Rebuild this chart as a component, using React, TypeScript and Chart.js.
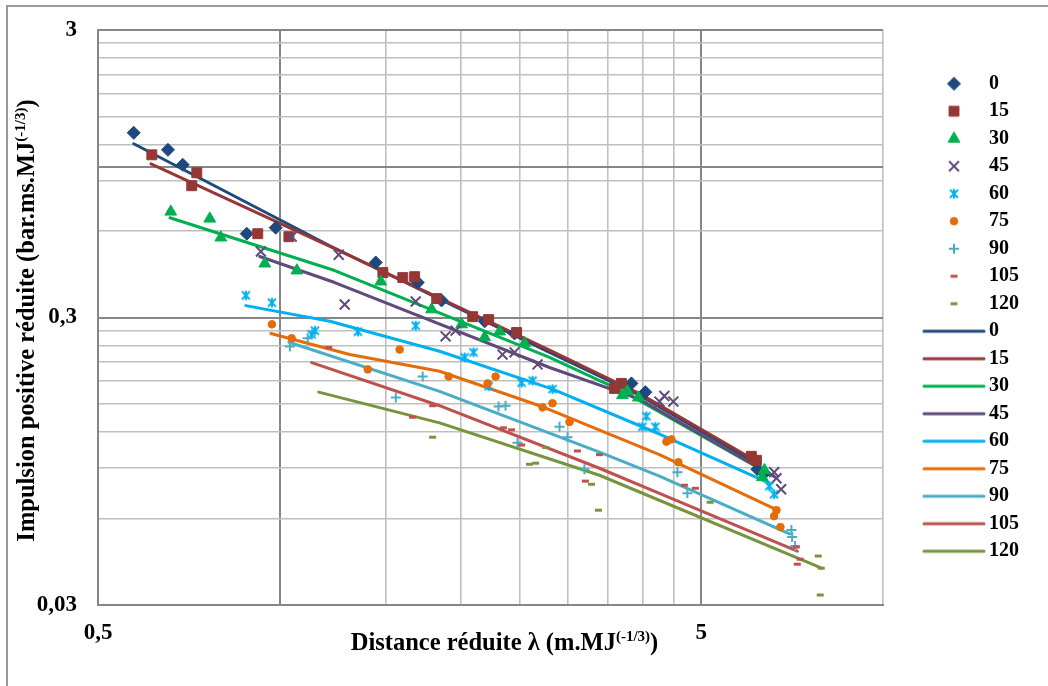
import React, { useEffect, useRef } from 'react';
import { Chart, registerables } from 'chart.js';

Chart.register(...registerables);

// ---------- data ----------
const SERIES_NAMES = ['0', '15', '30', '45', '60', '75', '90', '105', '120'];

const P0_X = [0.573, 0.653, 0.691, 0.882, 0.985, 1.443, 1.694, 1.855, 2.187, 2.451, 3.829, 4.038, 6.19, 6.36];
const P0_Y = [1.317, 1.149, 1.019, 0.587, 0.616, 0.466, 0.397, 0.344, 0.291, 0.264, 0.177, 0.165, 0.089, 0.0862];

const P15_X = [0.614, 0.715, 0.729, 0.92, 1.036, 1.483, 1.6, 1.674, 1.821, 2.089, 2.22, 2.47, 3.589, 3.686, 6.05, 6.17];
const P15_Y = [1.104, 0.862, 0.956, 0.587, 0.573, 0.43, 0.413, 0.416, 0.349, 0.302, 0.295, 0.266, 0.17, 0.177, 0.0987, 0.0956];

const P30_X = [0.66, 0.766, 0.799, 0.945, 1.068, 1.471, 1.786, 2.003, 2.187, 2.315, 2.547, 3.7, 3.771, 3.932, 6.36, 6.31];
const P30_Y = [0.7, 0.662, 0.569, 0.462, 0.437, 0.4, 0.32, 0.284, 0.256, 0.268, 0.244, 0.161, 0.166, 0.158, 0.0883, 0.0835];

const P45_X = [0.931, 1.047, 1.253, 1.282, 1.681, 1.884, 1.957, 2.341, 2.451, 2.676, 4.261, 4.342, 4.493, 6.6, 6.66, 6.78];
const P45_Y = [0.509, 0.573, 0.496, 0.333, 0.341, 0.258, 0.27, 0.223, 0.227, 0.206, 0.153, 0.16, 0.153, 0.0869, 0.0828, 0.0758];

const P60_X = [0.879, 0.971, 1.13, 1.144, 1.348, 1.681, 2.026, 2.096, 2.22, 2.518, 2.625, 2.833, 3.993, 4.054, 4.196, 6.48, 6.6];
const P60_Y = [0.358, 0.338, 0.262, 0.27, 0.268, 0.281, 0.218, 0.227, 0.173, 0.178, 0.181, 0.169, 0.125, 0.136, 0.125, 0.0777, 0.0728];

const P75_X = [0.971, 1.047, 1.4, 1.581, 1.906, 2.212, 2.28, 2.728, 2.833, 3.023, 4.376, 4.459, 4.58, 6.66, 6.6, 6.76];
const P75_Y = [0.284, 0.254, 0.198, 0.232, 0.187, 0.177, 0.187, 0.146, 0.151, 0.13, 0.111, 0.113, 0.0941, 0.0641, 0.0611, 0.056];

const P90_X = [1.04, 1.113, 1.558, 1.726, 2.306, 2.368, 2.479, 2.91, 3.0, 3.2, 4.563, 4.74, 7.05, 7.07, 7.15];
const P90_Y = [0.238, 0.254, 0.158, 0.187, 0.147, 0.148, 0.11, 0.125, 0.115, 0.089, 0.0869, 0.0734, 0.0547, 0.0517, 0.0481];

const P105_X = [1.206, 1.661, 1.793, 2.35, 2.423, 2.518, 3.116, 3.389, 3.212, 4.687, 4.887, 7.18, 7.29, 7.21];
const P105_Y = [0.236, 0.135, 0.148, 0.124, 0.122, 0.108, 0.103, 0.1, 0.0809, 0.0783, 0.0764, 0.0477, 0.0433, 0.0416];

const P120_X = [1.793, 2.595, 2.656, 2.759, 3.287, 3.376, 5.17, 7.81, 7.9, 7.87];
const P120_Y = [0.115, 0.0926, 0.0934, 0.106, 0.0789, 0.0641, 0.0683, 0.0444, 0.0403, 0.0325];

// trend lines
const L0_X = [0.573, 1.211, 2.801, 3.948, 6.24];
const L0_Y = [1.206, 0.533, 0.227, 0.161, 0.0919];
const L15_X = [0.612, 1.234, 2.801, 3.948, 6.17];
const L15_Y = [1.027, 0.521, 0.231, 0.163, 0.0949];
const L30_X = [0.658, 1.234, 2.801, 3.728, 6.36];
const L30_Y = [0.667, 0.437, 0.218, 0.165, 0.0876];
const L45_X = [0.927, 1.234, 2.801, 3.948, 6.63];
const L45_Y = [0.489, 0.397, 0.201, 0.156, 0.0835];
const L60_X = [0.879, 1.211, 1.841, 2.833, 4.261, 6.48];
const L60_Y = [0.33, 0.291, 0.229, 0.169, 0.118, 0.0796];
const L75_X = [0.967, 1.307, 1.841, 2.697, 4.261, 6.63];
const L75_Y = [0.264, 0.223, 0.195, 0.148, 0.1, 0.0646];
const L90_X = [1.036, 1.841, 3.389, 4.261, 7.0];
const L90_Y = [0.246, 0.166, 0.102, 0.0842, 0.053];
const L105_X = [1.13, 1.841, 3.389, 4.261, 7.21];
const L105_Y = [0.209, 0.148, 0.0897, 0.0734, 0.0462];
const L120_X = [1.161, 1.841, 3.389, 7.7, 7.9];
const L120_Y = [0.165, 0.129, 0.0848, 0.0413, 0.0403];

const X_TICKS = [0.5, 1, 1.5, 2, 2.5, 3, 3.5, 4, 4.5, 5, 10];
const X_LABELED = [0.5, 5];
const X_DARK = [0.5, 1, 5];
const Y_TICKS = [0.03, 0.06, 0.09, 0.12, 0.15, 0.18, 0.21, 0.24, 0.27, 0.3, 0.6, 0.9, 1, 1.2, 1.5, 1.8, 2.1, 2.4, 2.7, 3];
const Y_LABELED = [0.03, 0.3, 3];
const Y_DARK = [0.03, 0.3, 1, 3];

const X_TITLE = 'Distance réduite λ (m.MJ';
const Y_TITLE = 'Impulsion positive réduite (bar.ms.MJ';
const TITLE_SUP = '(-1/3)';
const TITLE_TAIL = ')';

// ---------- styles ----------
const COLORS = ['#1F497D', '#953735', '#00B050', '#604A7B', '#00B0F0', '#E46C0A', '#4BACC6', '#C0504D', '#77933C'];
const MARKERS = ['rectRot', 'rect', 'triangle', 'crossRot', 'asterisk', 'circle', 'cross', 'line', 'line'];
const MARKER_R = [6.5, 7, 6.8, 7, 5, 3.8, 5, 3.5, 3.5];
const MARKER_BW = [1, 1, 1, 2, 2, 1, 2, 3, 3];
const FAMILY = '"Liberation Serif", "Times New Roman", serif';
const DARK = '#868686';
const LIGHT = '#BFBFBF';

const near = (a: number, b: number) => Math.abs(a / b - 1) < 1e-6;
const fmt = (v: number) => String(v).replace('.', ',');

function drawMarker(ctx: CanvasRenderingContext2D, style: string, r: number, bw: number, cx: number, cy: number, color: string) {
  ctx.fillStyle = color;
  ctx.strokeStyle = color;
  ctx.lineWidth = bw;
  ctx.beginPath();
  if (style === 'rectRot') {
    ctx.moveTo(cx - r, cy); ctx.lineTo(cx, cy - r); ctx.lineTo(cx + r, cy); ctx.lineTo(cx, cy + r); ctx.closePath();
    ctx.fill(); ctx.stroke();
  } else if (style === 'rect') {
    const s = r * Math.SQRT1_2;
    ctx.rect(cx - s, cy - s, 2 * s, 2 * s); ctx.fill(); ctx.stroke();
  } else if (style === 'triangle') {
    ctx.moveTo(cx, cy - r); ctx.lineTo(cx + 0.866 * r, cy + 0.5 * r); ctx.lineTo(cx - 0.866 * r, cy + 0.5 * r); ctx.closePath();
    ctx.fill(); ctx.stroke();
  } else if (style === 'crossRot') {
    const d = r * Math.SQRT1_2;
    ctx.moveTo(cx - d, cy - d); ctx.lineTo(cx + d, cy + d); ctx.moveTo(cx + d, cy - d); ctx.lineTo(cx - d, cy + d); ctx.stroke();
  } else if (style === 'asterisk') {
    const d = 4;
    ctx.moveTo(cx - d, cy - d); ctx.lineTo(cx + d, cy + d); ctx.moveTo(cx + d, cy - d); ctx.lineTo(cx - d, cy + d);
    ctx.moveTo(cx, cy - 4.8); ctx.lineTo(cx, cy + 4.8); ctx.stroke();
  } else if (style === 'circle') {
    ctx.arc(cx, cy, r, 0, Math.PI * 2); ctx.fill(); ctx.stroke();
  } else if (style === 'cross') {
    ctx.moveTo(cx - r, cy); ctx.lineTo(cx + r, cy); ctx.moveTo(cx, cy - r); ctx.lineTo(cx, cy + r); ctx.stroke();
  } else if (style === 'line') {
    ctx.moveTo(cx - r, cy); ctx.lineTo(cx + r, cy); ctx.stroke();
  }
}

function makeCanvas(w: number, h: number) {
  const c = document.createElement('canvas');
  c.width = w; c.height = h;
  return c;
}

function drawRichTitle(ctx: CanvasRenderingContext2D, main: string) {
  const mainFont = `bold 24.5px ${FAMILY}`;
  const supFont = `bold 15px ${FAMILY}`;
  ctx.font = mainFont;
  const wm = ctx.measureText(main).width;
  const wt = ctx.measureText(TITLE_TAIL).width;
  ctx.font = supFont;
  const ws = ctx.measureText(TITLE_SUP).width;
  let x = -(wm + ws + wt) / 2;
  ctx.fillStyle = '#000';
  ctx.textAlign = 'left';
  ctx.textBaseline = 'alphabetic';
  ctx.font = mainFont; ctx.fillText(main, x, 0); x += wm;
  ctx.font = supFont; ctx.fillText(TITLE_SUP, x, -9); x += ws;
  ctx.font = mainFont; ctx.fillText(TITLE_TAIL, x, 0);
}

const titlePlugin = {
  id: 'richAxisTitles',
  afterDraw(chart: any) {
    const { ctx, chartArea } = chart;
    ctx.save();
    ctx.translate((chartArea.left + chartArea.right) / 2 + 14, chartArea.bottom + 45);
    drawRichTitle(ctx, X_TITLE);
    ctx.restore();
    ctx.save();
    ctx.translate(chartArea.left - 64, (chartArea.top + chartArea.bottom) / 2 + 3);
    ctx.rotate(-Math.PI / 2);
    drawRichTitle(ctx, Y_TITLE);
    ctx.restore();
  },
};

export default function App() {
  const ref = useRef<HTMLCanvasElement | null>(null);

  useEffect(() => {
    if (!ref.current) return;
    const PX = [P0_X, P15_X, P30_X, P45_X, P60_X, P75_X, P90_X, P105_X, P120_X];
    const PY = [P0_Y, P15_Y, P30_Y, P45_Y, P60_Y, P75_Y, P90_Y, P105_Y, P120_Y];
    const LX = [L0_X, L15_X, L30_X, L45_X, L60_X, L75_X, L90_X, L105_X, L120_X];
    const LY = [L0_Y, L15_Y, L30_Y, L45_Y, L60_Y, L75_Y, L90_Y, L105_Y, L120_Y];

    const asterisk = makeCanvas(14, 14);
    drawMarker(asterisk.getContext('2d')!, 'asterisk', 5, 2, 7, 7, COLORS[4]);

    const markerIcons = SERIES_NAMES.map((_, i) => {
      const c = makeCanvas(64, 18);
      drawMarker(c.getContext('2d')!, MARKERS[i], MARKER_R[i], MARKER_BW[i], 32, 9, COLORS[i]);
      return c;
    });
    const lineIcons = SERIES_NAMES.map((_, i) => {
      const c = makeCanvas(66, 18);
      const g = c.getContext('2d')!;
      g.strokeStyle = COLORS[i]; g.lineWidth = 3; g.lineCap = 'round';
      g.beginPath(); g.moveTo(3, 9); g.lineTo(63, 9); g.stroke();
      return c;
    });
    const icons = [...markerIcons, ...lineIcons];

    const markerSets = SERIES_NAMES.map((name, i) => ({
      label: name,
      data: PX[i].map((x, k) => ({ x, y: PY[i][k] })),
      showLine: false,
      pointStyle: MARKERS[i] === 'asterisk' ? asterisk : MARKERS[i],
      pointRadius: MARKER_R[i],
      pointBackgroundColor: COLORS[i],
      pointBorderColor: COLORS[i],
      pointBorderWidth: MARKER_BW[i],
      borderColor: COLORS[i],
      backgroundColor: COLORS[i],
      order: 40 - i,
    }));
    const lineSets = SERIES_NAMES.map((name, i) => ({
      label: name,
      data: LX[i].map((x, k) => ({ x, y: LY[i][k] })),
      showLine: true,
      pointRadius: 0,
      borderColor: COLORS[i],
      backgroundColor: COLORS[i],
      borderWidth: 3,
      borderCapStyle: 'round',
      borderJoinStyle: 'round',
      fill: false,
      tension: 0,
      order: 80 - i,
    }));

    const tickFont = { family: FAMILY, size: 23, weight: 'bold' as const };

    const chart = new Chart(ref.current, {
      type: 'scatter',
      data: { datasets: [...markerSets, ...lineSets] as any },
      options: {
        animation: false,
        responsive: false,
        devicePixelRatio: 1,
        events: [],
        layout: { padding: { left: 0, top: 30, right: 19, bottom: 0 } },
        scales: {
          x: {
            type: 'logarithmic',
            position: 'bottom',
            min: 0.5,
            max: 10,
            afterBuildTicks: (s: any) => { s.ticks = X_TICKS.map((v) => ({ value: v })); },
            afterFit: (s: any) => { s.height = 81; s.paddingLeft = 0; s.paddingRight = 0; },
            ticks: {
              autoSkip: false, maxRotation: 0, minRotation: 0, padding: 14, color: '#000', font: tickFont,
              callback: (v: any) => (X_LABELED.some((d) => near(Number(v), d)) ? fmt(Number(v)) : ''),
            },
            grid: {
              drawTicks: false,
              color: (c: any) => (c.tick && X_DARK.some((d) => near(c.tick.value, d)) ? DARK : LIGHT),
              lineWidth: (c: any) => (c.tick && X_DARK.some((d) => near(c.tick.value, d)) ? 2 : 1.6),
            },
            border: { display: true, color: DARK, width: 2 },
          },
          y: {
            type: 'logarithmic',
            position: 'left',
            min: 0.03,
            max: 3,
            afterBuildTicks: (s: any) => { s.ticks = Y_TICKS.map((v) => ({ value: v })); },
            afterFit: (s: any) => { s.width = 98; s.paddingTop = 0; s.paddingBottom = 0; },
            ticks: {
              autoSkip: false, padding: 21, color: '#000', font: tickFont,
              callback: (v: any) => (Y_LABELED.some((d) => near(Number(v), d)) ? fmt(Number(v)) : ''),
            },
            grid: {
              drawTicks: false,
              color: (c: any) => (c.tick && Y_DARK.some((d) => near(c.tick.value, d)) ? DARK : LIGHT),
              lineWidth: (c: any) => (c.tick && Y_DARK.some((d) => near(c.tick.value, d)) ? 2 : 1.6),
            },
            border: { display: true, color: DARK, width: 2 },
          },
          y2: {
            type: 'linear',
            position: 'right',
            display: true,
            grid: { display: false, drawOnChartArea: false },
            border: { display: false },
            ticks: { display: false },
            afterFit: (s: any) => { s.width = 38.5; s.paddingTop = 0; s.paddingBottom = 0; },
          },
        } as any,
        plugins: {
          tooltip: { enabled: false },
          title: { display: false },
          legend: {
            display: true,
            position: 'right',
            align: 'center',
            fullSize: false,
            labels: {
              usePointStyle: true,
              pointStyleWidth: 50,
              padding: 7.5,
              color: '#000',
              font: { family: FAMILY, size: 20, weight: 'bold' },
              generateLabels: (ch: any) =>
                ch.data.datasets.map((ds: any, i: number) => ({
                  text: ds.label,
                  pointStyle: icons[i],
                  fillStyle: COLORS[i % 9],
                  strokeStyle: COLORS[i % 9],
                  lineWidth: 0,
                  hidden: false,
                  datasetIndex: i,
                  fontColor: '#000',
                })),
            },
          },
        },
      } as any,
      plugins: [titlePlugin],
    });
    return () => chart.destroy();
  }, []);

  return (
    <div style={{ position: 'fixed', left: 0, top: 0, width: 1048, height: 686, overflow: 'hidden', background: '#fff' }}>
      <div
        style={{
          position: 'absolute', left: 6, top: 5, width: 1200, height: 800,
          borderTop: '2px solid #9a9a9a', borderLeft: '2px solid #9a9a9a',
        }}
      />
      <canvas ref={ref} width={1048} height={686} style={{ position: 'absolute', left: 0, top: 0 }} />
    </div>
  );
}
